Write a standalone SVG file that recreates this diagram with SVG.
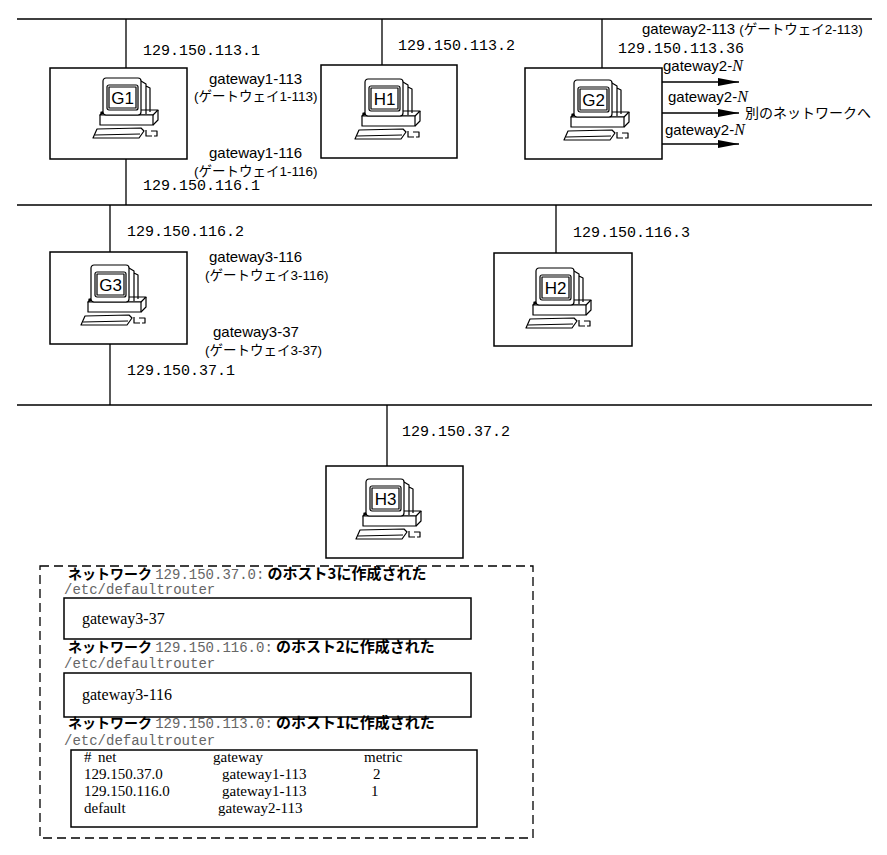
<svg xmlns="http://www.w3.org/2000/svg" width="887" height="855" viewBox="0 0 887 855">
<style>
.box{fill:#fff;stroke:#000;stroke-width:1.5}
.ln{stroke:#000;stroke-width:1.3;fill:none}
.ip{font-family:"Liberation Mono",monospace;font-size:15px;fill:#000}
.gw{font-family:"Liberation Sans","Noto Sans CJK JP",sans-serif;font-size:15px;fill:#000}
.jp{font-family:"Liberation Sans","Noto Sans CJK JP",sans-serif;font-size:13.5px;fill:#000}
.scr{font-family:"Liberation Sans",sans-serif;font-size:17px;text-anchor:middle;fill:#000}
.hd{font-family:"Noto Sans CJK JP",sans-serif;font-size:14px;font-weight:bold;fill:#000}
.hd2{font-size:15px}
.mg{font-family:"Liberation Mono",monospace;font-size:14px;font-weight:normal;fill:#666}
.sf{font-family:"Liberation Serif",serif;font-size:15px;fill:#000}
.it{font-family:"Liberation Serif",serif;font-style:italic;font-size:16px}
</style>
<defs>
<marker id="ah" markerUnits="userSpaceOnUse" markerWidth="22" markerHeight="10" refX="21" refY="4.5" orient="auto">
<path d="M0,0.5 L21,4.5 L0,8.5 Z" fill="#000"/>
</marker>
<g id="pc" fill="none" stroke="#000" stroke-width="1.2" stroke-linejoin="round">
<path d="M1,38 L6,33 L59,33 L54,38 Z" fill="#fff"/>
<rect x="1" y="38" width="53" height="10" fill="#fff"/>
<path d="M54,48 L59,43 L59,33"/>
<rect x="2" y="35" width="3" height="1.5" fill="#000"/>
<path d="M42,4 L47,7 L47,37 M47,9 L51,11 L51,35"/>
<rect x="4" y="1" width="38" height="37" rx="3" fill="#fff"/>
<rect x="8" y="8" width="31" height="25" rx="2"/>
<rect x="10" y="10" width="27" height="21"/>
<path d="M-2,52 L42,51 L45,54 L40,61 L-6,61 Z" fill="#fff"/>
<path d="M-4,58 L41,57"/>
<path d="M47,53 L47,59 L53,59 M52,54 L58,54 L58,59 L55,59"/>
</g>
</defs>
<rect width="887" height="855" fill="#fff"/>

<g id="connectors" class="ln">
<path d="M17,19 H872 M17,205 H872 M17,405 H872"/>
<path d="M126,19 V68 M126,159 V205 M382,19 V65 M602,19 V68"/>
<path d="M110,205 V252 M110,344 V405 M556,205 V253 M387,405 V466"/>
<line x1="662" y1="82" x2="739" y2="82" marker-end="url(#ah)"/>
<line x1="662" y1="113" x2="739" y2="113" marker-end="url(#ah)"/>
<line x1="662" y1="144" x2="739" y2="144" marker-end="url(#ah)"/>
</g>

<g id="G1"><rect class="box" x="50" y="68" width="137" height="91"/><use href="#pc" x="99" y="77"/><text class="scr" x="122.5" y="104">G1</text></g>
<g id="H1"><rect class="box" x="321" y="65" width="136" height="93"/><use href="#pc" x="361" y="78"/><text class="scr" x="384.5" y="105">H1</text></g>
<g id="G2"><rect class="box" x="525" y="68" width="137" height="91"/><use href="#pc" x="570" y="79"/><text class="scr" x="593.5" y="106">G2</text></g>
<g id="G3"><rect class="box" x="50" y="252" width="137" height="92"/><use href="#pc" x="87" y="264"/><text class="scr" x="110.5" y="291">G3</text></g>
<g id="H2"><rect class="box" x="494" y="253" width="138" height="93"/><use href="#pc" x="532" y="267"/><text class="scr" x="555.5" y="294">H2</text></g>
<g id="H3"><rect class="box" x="326" y="466" width="137" height="92"/><use href="#pc" x="362" y="478"/><text class="scr" x="385.5" y="505">H3</text></g>

<g id="labels">
<text class="ip" x="143" y="55">129.150.113.1</text>
<text class="ip" x="398" y="50">129.150.113.2</text>
<text class="ip" x="618" y="53">129.150.113.36</text>
<text class="gw" x="642" y="34">gateway2-113 <tspan class="jp">(ゲートウェイ2-113)</tspan></text>
<text class="gw" x="663" y="71">gateway2-<tspan class="it">N</tspan></text>
<text class="gw" x="668" y="102">gateway2-<tspan class="it">N</tspan></text>
<text class="gw" x="665" y="135">gateway2-<tspan class="it">N</tspan></text>
<text x="745" y="118" style="font-family:'Noto Sans CJK JP',sans-serif;font-size:14px">別のネットワークへ</text>
<text class="gw" x="209" y="84">gateway1-113</text>
<text class="jp" x="194" y="101">(ゲートウェイ1-113)</text>
<text class="gw" x="209" y="158">gateway1-116</text>
<text class="jp" x="194" y="176">(ゲートウェイ1-116)</text>
<text class="ip" x="143" y="190">129.150.116.1</text>
<text class="ip" x="127" y="236">129.150.116.2</text>
<text class="gw" x="209" y="262">gateway3-116</text>
<text class="jp" x="205" y="280">(ゲートウェイ3-116)</text>
<text class="gw" x="213" y="337">gateway3-37</text>
<text class="jp" x="205" y="355">(ゲートウェイ3-37)</text>
<text class="ip" x="127" y="375">129.150.37.1</text>
<text class="ip" x="573" y="237">129.150.116.3</text>
<text class="ip" x="402" y="436">129.150.37.2</text>
</g>

<g id="files">
<rect x="40" y="566" width="493" height="272" fill="none" stroke="#000" stroke-width="1.3" stroke-dasharray="9 5"/>
<text class="hd" x="68" y="579">ネットワーク <tspan class="mg">129.150.37.0:</tspan> <tspan class="hd2">のホスト3に作成された</tspan></text>
<text class="mg" x="64" y="594">/etc/defaultrouter</text>
<rect class="box" x="64" y="598" width="407" height="41"/>
<text class="sf" x="82" y="624" style="font-size:16px">gateway3-37</text>
<text class="hd" x="68" y="652">ネットワーク <tspan class="mg">129.150.116.0:</tspan> <tspan class="hd2">のホスト2に作成された</tspan></text>
<text class="mg" x="64" y="668">/etc/defaultrouter</text>
<rect class="box" x="64" y="673" width="407" height="44"/>
<text class="sf" x="82" y="700" style="font-size:16px">gateway3-116</text>
<text class="hd" x="68" y="728">ネットワーク <tspan class="mg">129.150.113.0:</tspan> <tspan class="hd2">のホスト1に作成された</tspan></text>
<text class="mg" x="64" y="745">/etc/defaultrouter</text>
<rect class="box" x="71" y="750" width="406" height="77"/>
<text class="sf" x="84" y="762">#</text>
<text class="sf" x="98" y="762">net</text>
<text class="sf" x="213" y="762">gateway</text>
<text class="sf" x="364" y="762">metric</text>
<text class="sf" x="84" y="779">129.150.37.0</text>
<text class="sf" x="222" y="779">gateway1-113</text>
<text class="sf" x="373" y="779">2</text>
<text class="sf" x="84" y="796">129.150.116.0</text>
<text class="sf" x="222" y="796">gateway1-113</text>
<text class="sf" x="371" y="796">1</text>
<text class="sf" x="84" y="813">default</text>
<text class="sf" x="218" y="813">gateway2-113</text>
</g>
</svg>
